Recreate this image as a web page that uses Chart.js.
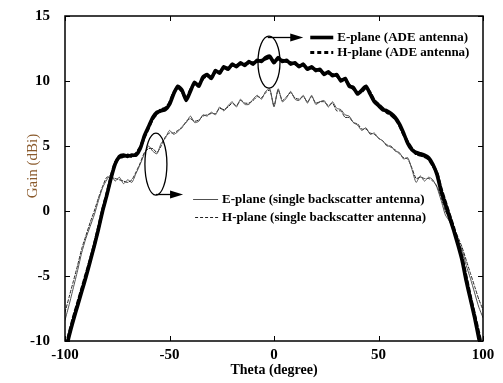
<!DOCTYPE html>
<html>
<head>
<meta charset="utf-8">
<script src="https://cdn.jsdelivr.net/npm/chart.js@4.4.1/dist/chart.umd.min.js"></script>
<style>
  html, body { margin: 0; padding: 0; background: #fff; }
  #wrap { width: 503px; height: 383px; }
</style>
</head>
<body>
<div id="wrap"><canvas id="gain" width="503" height="383"></canvas></div>
<script>
// theta (degree), sampled every 2 degrees
const theta = [
  -100, -98, -96, -94, -92, -90, -88, -86, -84, -82,
  -80, -78, -76, -74, -72, -70, -68, -66, -64, -62,
  -60, -58, -56, -54, -52, -50, -48, -46, -44, -42,
  -40, -38, -36, -34, -32, -30, -28, -26, -24, -22,
  -20, -18, -16, -14, -12, -10, -8, -6, -4, -2,
  0,
  2, 4, 6, 8, 10, 12, 14, 16, 18, 20,
  22, 24, 26, 28, 30, 32, 34, 36, 38, 40,
  42, 44, 46, 48, 50, 52, 54, 56, 58, 60,
  62, 64, 66, 68, 70, 72, 74, 76, 78, 80,
  82, 84, 86, 88, 90, 92, 94, 96, 98, 100
];

// E-plane (ADE antenna)
const ePlaneAde = [
  -11.0, -9.6, -8.4, -7.3, -6.2, -5.1, -3.9, -2.7, -1.4, 0.0,
  1.2, 2.5, 3.6, 4.2, 4.3, 4.2, 4.3, 4.3, 4.8, 5.8,
  6.5, 7.2, 7.6, 7.7, 7.8, 8.2, 9.0, 9.6, 9.3, 8.5,
  9.2, 9.9, 9.6, 10.3, 10.5, 10.2, 10.8, 10.6, 11.1, 10.9,
  11.3, 11.1, 11.4, 11.2, 11.5, 11.3, 11.6, 11.5, 11.8, 11.9,
  11.4,
  11.8, 11.5, 11.6, 11.3, 11.4, 11.1, 11.3, 10.9, 11.1, 10.8,
  10.9, 10.5, 10.7, 10.4, 10.5, 10.0, 10.2, 9.6, 9.5, 9.0,
  9.3, 9.6, 9.0, 8.4, 8.1, 7.8, 7.7, 7.5, 7.2, 6.7,
  6.0, 5.2, 4.7, 4.5, 4.4, 4.3, 4.1, 3.6, 2.8, 1.5,
  0.5, -0.5, -1.5, -2.6, -3.8, -5.4, -6.8, -8.2, -9.8, -11.2
];

// H-plane (ADE antenna)
const hPlaneAde = [
  -10.8, -9.4, -8.2, -7.1, -6.0, -4.9, -3.8, -2.6, -1.3, 0.1,
  1.3, 2.6, 3.7, 4.1, 4.2, 4.3, 4.2, 4.4, 4.9, 5.7,
  6.4, 7.1, 7.5, 7.8, 7.9, 8.3, 9.1, 9.5, 9.2, 8.6,
  9.3, 9.8, 9.7, 10.2, 10.4, 10.3, 10.7, 10.7, 11.0, 11.0,
  11.2, 11.2, 11.3, 11.3, 11.4, 11.4, 11.5, 11.6, 11.7, 11.8,
  11.5,
  11.7, 11.6, 11.5, 11.4, 11.3, 11.2, 11.2, 11.0, 11.0, 10.9,
  10.8, 10.6, 10.6, 10.5, 10.4, 10.1, 10.1, 9.7, 9.4, 9.1,
  9.2, 9.5, 9.1, 8.5, 8.2, 7.9, 7.6, 7.4, 7.1, 6.6,
  5.9, 5.3, 4.8, 4.4, 4.3, 4.2, 4.0, 3.5, 2.9, 1.7,
  0.7, -0.3, -1.3, -2.4, -3.6, -5.1, -6.6, -8.0, -9.4, -10.8
];

// E-plane (single backscatter antenna)
const ePlaneSingle = [
  -8.4, -7.2, -5.9, -4.6, -3.2, -2.1, -1.2, -0.3, 0.8, 1.8,
  2.4, 2.8, 2.3, 2.6, 2.1, 2.4, 2.2, 2.9, 3.6, 4.4,
  5.0, 4.6, 4.4, 5.2, 5.6, 6.2, 5.9, 6.1, 6.5, 6.8,
  7.3, 6.8, 6.9, 7.4, 7.3, 7.6, 7.4, 8.0, 7.7, 8.1,
  8.4, 8.0, 8.6, 8.2, 8.2, 8.6, 8.9, 8.6, 9.2, 9.4,
  8.0,
  9.4, 8.4, 8.7, 9.2, 8.6, 8.5, 8.9, 8.3, 8.9, 8.2,
  8.4, 8.5, 8.0, 8.4, 7.9, 7.8, 7.4, 7.3, 6.8, 6.6,
  6.2, 6.4, 5.9, 6.0, 5.6, 5.4, 5.0, 5.0, 4.6, 4.5,
  4.0, 4.1, 3.2, 2.2, 2.7, 2.3, 2.6, 2.4, 1.8, 0.8,
  -0.3, -0.8, -1.6, -2.3, -3.0, -4.2, -5.2, -6.3, -7.4, -8.2
];

// H-plane (single backscatter antenna)
const hPlaneSingle = [
  -7.8, -6.6, -5.4, -4.2, -2.9, -1.9, -0.9, 0.0, 1.0, 1.9,
  2.6, 2.6, 2.5, 2.4, 2.3, 2.2, 2.4, 3.0, 3.7, 4.5,
  4.8, 4.8, 4.5, 5.0, 5.7, 6.0, 6.0, 6.2, 6.4, 6.9,
  7.1, 6.9, 7.0, 7.3, 7.4, 7.5, 7.5, 7.9, 7.8, 8.0,
  8.3, 8.1, 8.5, 8.3, 8.3, 8.5, 8.8, 8.7, 9.1, 9.3,
  8.1,
  9.3, 8.5, 8.8, 9.1, 8.7, 8.6, 8.8, 8.4, 8.8, 8.3,
  8.4, 8.4, 8.1, 8.3, 7.7, 7.7, 7.2, 7.2, 6.8, 6.7,
  6.3, 6.3, 6.0, 5.9, 5.6, 5.4, 5.1, 4.9, 4.7, 4.4,
  4.1, 4.0, 3.3, 2.5, 2.6, 2.5, 2.5, 2.3, 1.9, 1.0,
  0.0, -0.6, -1.3, -2.0, -2.8, -3.8, -4.8, -5.8, -6.8, -7.6
];

const xTicks = [-100, -50, 0, 50, 100];
const yTicks = [-10, -5, 0, 5, 10, 15];

const SERIF = '"Liberation Serif", "DejaVu Serif", serif';

const toPoints = (vals) => vals.map((v, i) => ({ x: theta[i], y: v }));

// frame, inward ticks, ellipses, arrows, in-plot legend, y title
const frameAndNotes = {
  id: 'frameAndNotes',
  afterDraw(chart) {
    const { ctx, chartArea: a, scales: { x, y } } = chart;
    ctx.save();

    // ticks pointing into the plot on all four sides
    ctx.strokeStyle = '#000';
    ctx.lineWidth = 1;
    ctx.beginPath();
    xTicks.forEach((t) => {
      const px = Math.round(x.getPixelForValue(t)) + 0.5;
      ctx.moveTo(px, a.bottom); ctx.lineTo(px, a.bottom - 5);
      ctx.moveTo(px, a.top); ctx.lineTo(px, a.top + 5);
    });
    yTicks.forEach((t) => {
      const py = Math.round(y.getPixelForValue(t)) + 0.5;
      ctx.moveTo(a.left, py); ctx.lineTo(a.left + 5, py);
      ctx.moveTo(a.right, py); ctx.lineTo(a.right - 5, py);
    });
    ctx.stroke();

    ctx.lineWidth = 1.5;
    ctx.strokeRect(a.left, a.top, a.right - a.left, a.bottom - a.top);

    // ellipses around the two groups of curves
    const ellipse = (tx, gy, rx, ry) => {
      ctx.beginPath();
      ctx.ellipse(x.getPixelForValue(tx), y.getPixelForValue(gy), rx, ry, 0, 0, Math.PI * 2);
      ctx.lineWidth = 1.3;
      ctx.stroke();
    };
    ellipse(-2.4, 11.45, 11, 26);
    ellipse(-56.5, 3.6, 11, 31);

    const arrow = (x0, x1, py) => {
      ctx.beginPath();
      ctx.moveTo(x0, py); ctx.lineTo(x1 - 10, py);
      ctx.lineWidth = 1.3;
      ctx.stroke();
      ctx.beginPath();
      ctx.moveTo(x1, py); ctx.lineTo(x1 - 13, py - 4); ctx.lineTo(x1 - 13, py + 4);
      ctx.closePath();
      ctx.fill();
    };
    ctx.fillStyle = '#000';
    const ay1 = Math.round(y.getPixelForValue(13.35)) + 0.5;
    arrow(x.getPixelForValue(-3), x.getPixelForValue(14), ay1);
    const ay2 = Math.round(y.getPixelForValue(1.3)) + 0.5;
    arrow(x.getPixelForValue(-56.5), x.getPixelForValue(-43.5), ay2);

    // legend entries next to the arrows
    const entry = (x0, x1, py, ds, label) => {
      ctx.beginPath();
      ctx.setLineDash(ds.borderDash || []);
      ctx.strokeStyle = ds.borderColor;
      ctx.lineWidth = ds.borderWidth;
      ctx.moveTo(x0, py); ctx.lineTo(x1, py);
      ctx.stroke();
      ctx.setLineDash([]);
      ctx.fillStyle = '#000';
      ctx.font = 'bold 13px ' + SERIF;
      ctx.textAlign = 'left';
      ctx.textBaseline = 'middle';
      ctx.fillText(label, x1 + 4, py);
    };
    const d = chart.data.datasets;
    const lx1 = x.getPixelForValue(14) + 7;
    entry(lx1, lx1 + 23, ay1, d[0], d[0].label);
    entry(lx1, lx1 + 23, ay1 + 15, d[1], d[1].label);
    const lx2 = x.getPixelForValue(-43.5) + 10;
    entry(lx2, lx2 + 25, ay2 + 5, d[2], d[2].label);
    entry(lx2 + 2, lx2 + 25, ay2 + 23, d[3], d[3].label);

    // y axis title
    ctx.translate(33, 166);
    ctx.rotate(-Math.PI / 2);
    ctx.font = '15px ' + SERIF;
    ctx.fillStyle = '#8a5a2c';
    ctx.textAlign = 'center';
    ctx.textBaseline = 'middle';
    ctx.fillText('Gain (dBi)', 0, 0);

    ctx.restore();
  }
};

new Chart(document.getElementById('gain'), {
  type: 'line',
  data: {
    datasets: [
      {
        label: 'E-plane (ADE antenna)',
        data: toPoints(ePlaneAde),
        borderColor: '#000',
        borderWidth: 3.6,
        order: 1,
      },
      {
        label: 'H-plane (ADE antenna)',
        data: toPoints(hPlaneAde),
        borderColor: '#000',
        borderWidth: 3,
        borderDash: [4, 3],
        order: 2,
      },
      {
        label: 'E-plane (single backscatter antenna)',
        data: toPoints(ePlaneSingle),
        borderColor: '#505050',
        borderWidth: 1,
        order: 3,
      },
      {
        label: 'H-plane (single backscatter antenna)',
        data: toPoints(hPlaneSingle),
        borderColor: '#222',
        borderWidth: 1,
        borderDash: [3, 2],
        order: 4,
      },
    ],
  },
  options: {
    responsive: false,
    animation: false,
    devicePixelRatio: 1,
    layout: { padding: { left: 0, right: 20, top: 11, bottom: 0 } },
    elements: {
      point: { radius: 0 },
      line: { tension: 0.2, fill: false, borderCapStyle: 'round', borderJoinStyle: 'round' },
    },
    plugins: {
      legend: { display: false },
      tooltip: { enabled: false },
    },
    scales: {
      x: {
        type: 'linear',
        min: -100,
        max: 100,
        afterFit: (s) => { s.height = 42; },
        afterBuildTicks: (s) => { s.ticks = xTicks.map((v) => ({ value: v })); },
        grid: { display: false },
        border: { display: false },
        ticks: {
          padding: -3,
          color: '#000',
          font: { family: SERIF, size: 15, weight: 'bold' },
        },
        title: {
          display: true,
          text: 'Theta (degree)',
          color: '#000',
          font: { family: SERIF, size: 14, weight: 'bold' },
          padding: { top: 0, bottom: 4 },
        },
      },
      y: {
        min: -10,
        max: 15,
        afterFit: (s) => { s.width = 65; },
        afterBuildTicks: (s) => { s.ticks = yTicks.map((v) => ({ value: v })); },
        grid: { display: false },
        border: { display: false },
        ticks: {
          padding: 7,
          color: '#000',
          font: { family: SERIF, size: 15, weight: 'bold' },
        },
      },
    },
  },
  plugins: [frameAndNotes],
});
</script>
</body>
</html>
